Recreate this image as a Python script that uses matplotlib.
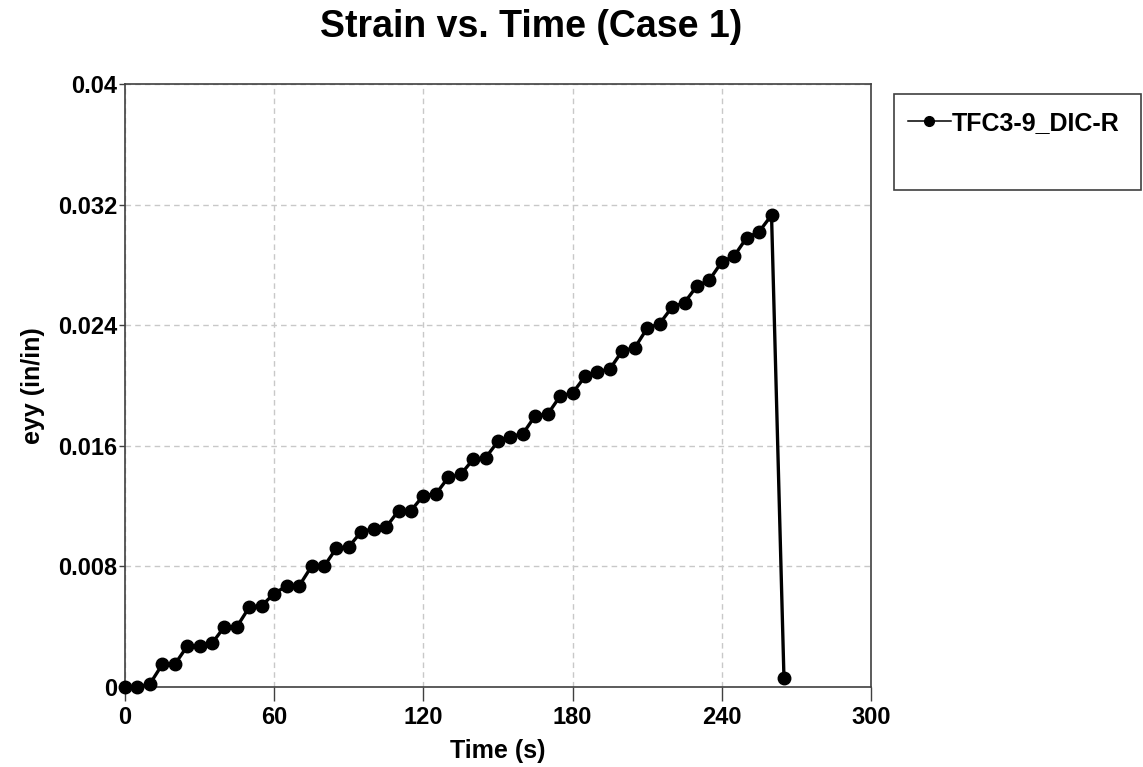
import matplotlib
matplotlib.use("Agg")
import matplotlib.pyplot as plt
from matplotlib.patches import Rectangle

plt.rcParams['font.family'] = ['Liberation Sans', 'DejaVu Sans']

time_s = [0, 5, 10, 15, 20, 25, 30, 35, 40, 45, 50, 55, 60, 65, 70, 75, 80, 85, 90, 95,
          100, 105, 110, 115, 120, 125, 130, 135, 140, 145, 150, 155, 160, 165, 170, 175,
          180, 185, 190, 195, 200, 205, 210, 215, 220, 225, 230, 235, 240, 245, 250, 255,
          260, 265]
eyy = [0.0000, 0.0000, 0.0002, 0.0015, 0.0015, 0.0027, 0.0027, 0.0029, 0.0040, 0.0040,
       0.0053, 0.0054, 0.0062, 0.0067, 0.0067, 0.0080, 0.0080, 0.0092, 0.0093, 0.0103,
       0.0105, 0.0106, 0.0117, 0.0117, 0.0127, 0.0128, 0.0139, 0.0141, 0.0151, 0.0152,
       0.0163, 0.0166, 0.0168, 0.0180, 0.0181, 0.0193, 0.0195, 0.0206, 0.0209, 0.0211,
       0.0223, 0.0225, 0.0238, 0.0241, 0.0252, 0.0255, 0.0266, 0.0270, 0.0282, 0.0286,
       0.0298, 0.0302, 0.0313, 0.0006]
series_name = "TFC3-9_DIC-R"
x_ticks = [0, 60, 120, 180, 240, 300]
y_ticks = [0, 0.008, 0.016, 0.024, 0.032, 0.04]
y_tick_labels = ["0", "0.008", "0.016", "0.024", "0.032", "0.04"]

W, H = 1143, 767
fig = plt.figure(figsize=(W / 100, H / 100), dpi=100)
ax = fig.add_axes([125 / W, 1 - 687 / H, (871 - 125) / W, (687 - 84) / H])

line, = ax.plot(time_s, eyy, color='black', lw=2.4, marker='o', ms=9,
                markerfacecolor='black', markeredgecolor='black', label=series_name,
                clip_on=False, zorder=3)

ax.set_xlim(0, 300)
ax.set_ylim(0, 0.04)
ax.set_xticks(x_ticks)
ax.set_xticklabels([str(v) for v in x_ticks])
ax.set_yticks(y_ticks)
ax.set_yticklabels(y_tick_labels)
ax.grid(True, color='#c8c8c8', linestyle=(0, (4, 3)), linewidth=1)
ax.set_axisbelow(True)
for sp in ax.spines.values():
    sp.set_color('#404040')
    sp.set_linewidth(1.2)
ax.tick_params(axis='x', direction='out', length=10, color='#404040', width=1,
               labelsize=17, pad=4)
ax.tick_params(axis='y', direction='out', length=4.5, color='#404040', width=1,
               labelsize=17, pad=1)
for lab in ax.get_xticklabels() + ax.get_yticklabels():
    lab.set_fontweight('bold')

ax.set_xlabel("Time (s)", fontsize=18, fontweight='bold', labelpad=7)
ax.set_ylabel("eyy (in/in)", fontsize=18, fontweight='bold', labelpad=9)

fig.text(531 / W, 1 - 27 / H, "Strain vs. Time (Case 1)", ha='center', va='center',
         fontsize=27, fontweight='bold')

# legend box
fig.patches.append(Rectangle((894 / W, 1 - 190 / H), (1141 - 894) / W, (190 - 94) / H,
                             transform=fig.transFigure, fill=False,
                             edgecolor='#404040', linewidth=1.2))
leg = fig.legend(handles=[line], loc='upper left',
                 bbox_to_anchor=(908 / W, 1 - 111 / H), frameon=False,
                 prop={'size': 18, 'weight': 'bold'}, handlelength=1.7,
                 handletextpad=0.05, borderaxespad=0, borderpad=0)
for h in leg.legend_handles:
    h.set_markersize(7)
    h.set_linewidth(1.1)

fig.savefig("out.png", dpi=100)
